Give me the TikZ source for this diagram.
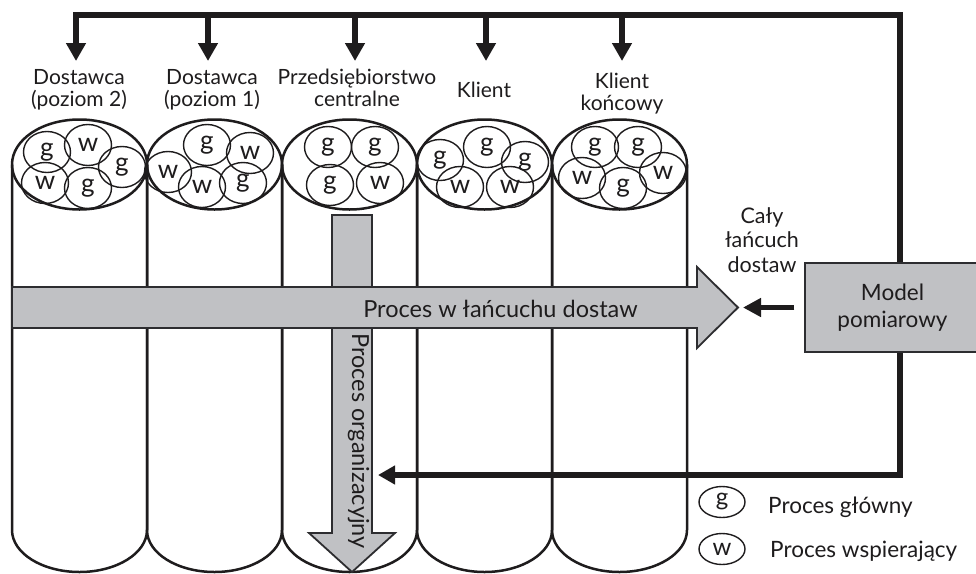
\documentclass[tikz,border=0pt]{standalone}
\usepackage{fontspec}
\setmainfont{Lato}
\usetikzlibrary{arrows.meta,shapes.geometric}
\definecolor{ink}{RGB}{30,28,29}
\definecolor{band}{RGB}{192,193,196}
\definecolor{bandedge}{RGB}{45,45,48}
\begin{document}
\begin{tikzpicture}[x=1pt,y=-1pt,
  cyl/.style={draw=ink,line width=2.5pt,line join=round},
  proc/.style={ellipse,draw=ink,line width=1.4pt,minimum width=47pt,minimum height=41pt,inner sep=0pt,text=ink,font=\fontsize{26}{26}\selectfont},
  legproc/.style={ellipse,draw=ink,line width=1.4pt,minimum width=46pt,minimum height=31pt,inner sep=0pt,text=ink,font=\fontsize{24}{24}\selectfont},
  flow/.style={fill=band,draw=bandedge,line width=1.8pt,line join=miter},
  frame/.style={draw=ink,line width=5.5pt,line join=miter},
  stub/.style={draw=ink,line width=5.5pt,-{Triangle[width=19pt,length=18pt]}},
  lab/.style={align=center,inner sep=0pt,text=ink,font=\fontsize{21}{22}\selectfont},
  flowtxt/.style={inner sep=0pt,text=ink,font=\fontsize{23.5}{26}\selectfont},
  legtxt/.style={inner sep=0pt,text=ink,font=\fontsize{22.5}{26}\selectfont},
  modelbox/.style={fill=band,draw=bandedge,line width=1.5pt,minimum width=175pt,minimum height=89pt,align=center,text=ink,font=\fontsize{22.5}{27}\selectfont}
]
\useasboundingbox (0,0) rectangle (976,573);
\fill[white] (0,0) rectangle (976,573);
\clip (0,0) rectangle (976,573);

% five cylinders, one per member of the chain
\foreach \L in {12,147,282,417,552}{
  \draw[cyl] (\L+67.5,164.5) ellipse[x radius=67.5,y radius=45];
  \draw[cyl] (\L,164.5) -- (\L,530)
    arc[start angle=180,end angle=0,x radius=67.5,y radius=42] -- (\L+135,164.5);
}

% processes inside each cylinder top
\foreach \x/\y/\t [count=\n] in {
  47/152/g, 88/145/w, 122/167/g, 45/183/w, 88/188/g,
  168/172/w, 207/145/g, 250/153/w, 202/187/w, 243/183/g,
  328/147/g, 375/147/g, 330/185/g, 380/183/w,
  440/160/g, 487/147/g, 525/162/g, 460/187/w, 510/187/w,
  595/147/g, 638/147/g, 582/178/w, 623/188/g, 663/173/w}
  \node[proc] (p\n) at (\x,\y) {\t};

% organisational process (vertical) and supply-chain process (horizontal)
\draw[flow] (332,215) -- (372,215) -- (372,533) -- (395,533) -- (352,572)
  -- (309,533) -- (332,533) -- cycle;
\coordinate (vaR) at (372,475);
\draw[flow] (12,287) -- (697,287) -- (697,267) -- (738,307.5) -- (697,348)
  -- (697,328) -- (12,328) -- cycle;
\coordinate (haTip) at (738,307.5);
\node[flowtxt,anchor=base] (hflow) at (500.5,317) {Proces w łańcuchu dostaw};
\node[flowtxt,anchor=base,rotate=-90] (vflow) at (352,441) {Proces organizacyjny};

% feedback frame from the measurement model
\coordinate (t1) at (76,15);
\coordinate (t2) at (208,15);
\coordinate (t3) at (355,15);
\coordinate (t4) at (486,15);
\coordinate (t5) at (622,15);
\coordinate (tR) at (900,15);
\coordinate (bR) at (900,475);
\draw[frame,line cap=rect,-{Triangle[width=18pt,length=17pt]},shorten >=6pt]
  (t1) -- (tR) -- (bR) -- (vaR);

% member labels
\node[lab,anchor=north] (lab1) at (79,69) {Dostawca\\(poziom 2)};
\node[lab,anchor=north] (lab2) at (212,69) {Dostawca\\(poziom 1)};
\node[lab,anchor=north] (lab3) at (357,69) {Przedsiębiorstwo\\centralne};
\node[lab,anchor=north] (lab4) at (484,82) {Klient};
\node[lab,anchor=north] (lab5) at (622,73) {Klient\\końcowy};

\draw[stub,shorten >=8pt] (t1) -- (t1 |- lab1.north);
\draw[stub,shorten >=8pt] (t2) -- (t2 |- lab2.north);
\draw[stub,shorten >=8pt] (t3) -- (t3 |- lab3.north);
\draw[stub,shorten >=21pt] (t4) -- (t4 |- lab4.north);
\draw[stub,shorten >=12pt] (t5) -- (t5 |- lab5.north);

% measurement model
\node[modelbox] (model) at (892.5,307.5) {Model\\pomiarowy};
\draw[draw=ink,line width=5pt,-{Triangle[width=18pt,length=18pt]},shorten >=5pt]
  ([xshift=-10pt]model.west) -- (haTip);
\node[lab,anchor=north,font=\fontsize{21.5}{24.5}\selectfont] (whole) at (762,207)
  {Cały\\łańcuch\\dostaw};

% legend
\node[legproc] (legg) at (722,502) {g};
\node[legproc] (legw) at (722,549) {w};
\node[legtxt,anchor=base west] (leggt) at (768,513) {Proces główny};
\node[legtxt,anchor=base west] (legwt) at (770,557) {Proces wspierający};
\end{tikzpicture}
\end{document}
